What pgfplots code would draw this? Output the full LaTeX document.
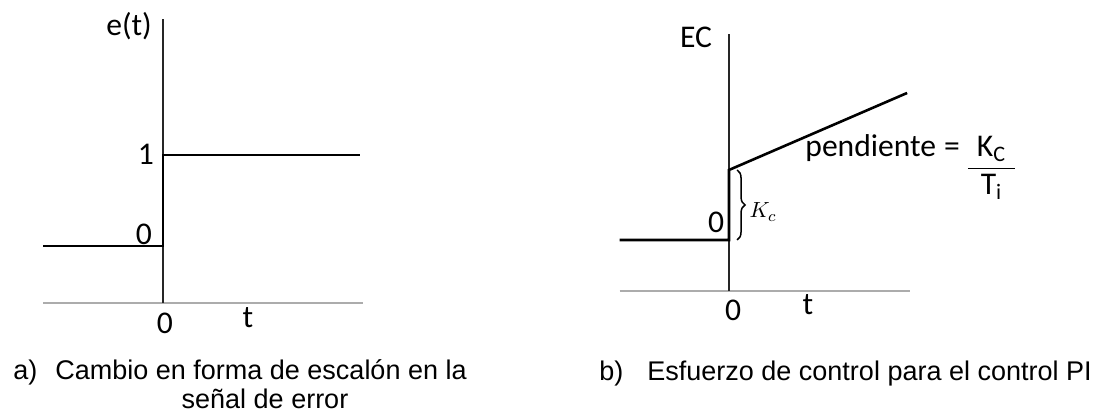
\documentclass[border=0pt]{standalone}
\usepackage{pgfplots}
\pgfplotsset{compat=1.18}
\usetikzlibrary{decorations.pathreplacing}
\usepackage{fontspec}
\setmainfont{Liberation Sans}
\newfontfamily\calfont{Carlito}
\setlength{\arrayrulewidth}{0.8pt}
\newcommand{\lab}{\calfont\fontsize{15.8}{18}\selectfont}
\newcommand{\capf}{\fontsize{13.5}{16}\selectfont}
\begin{document}
\begin{tikzpicture}
\useasboundingbox (0pt,-207.5pt) rectangle (547.5pt,0pt);
% ---------- panel a ----------
\begin{axis}[
  at={(21.5pt,-151.5pt)}, anchor=south west,
  x=40pt, y=45.5pt,
  xmin=-1.5, xmax=2.5, ymin=-0.626, ymax=2.495,
  axis x line=bottom, axis y line=middle,
  axis line style={-},
  every outer x axis line/.append style={-, draw=gray!65, line width=1pt},
  every inner x axis line/.append style={-, draw=gray!65, line width=1pt},
  every inner y axis line/.append style={-, draw=black!85, line width=1pt},
  every outer y axis line/.append style={-, draw=black!85, line width=1pt},
  ticks=none, clip=false,
]
\addplot[black, line width=1.3pt] coordinates {(-1.5,0) (0,0) (0,1) (2.46,1)};
\end{axis}
% ---------- panel b ----------
\begin{axis}[
  at={(309.75pt,-145.5pt)}, anchor=south west,
  x=36.5pt, y=35pt,
  xmin=-1.5, xmax=2.48, ymin=-0.729, ymax=2.943,
  axis x line=bottom, axis y line=middle,
  axis line style={-},
  every outer x axis line/.append style={-, draw=gray!65, line width=1pt},
  every inner x axis line/.append style={-, draw=gray!65, line width=1pt},
  every inner y axis line/.append style={-, draw=black!85, line width=1pt},
  every outer y axis line/.append style={-, draw=black!85, line width=1pt},
  ticks=none, clip=false,
]
\addplot[black, line width=1.3pt] coordinates {(-1.5,0) (0,0) (0,1) (2.44,2.1)};
\draw[black, line width=0.75pt, decorate, decoration={brace, amplitude=4pt}]
  (axis cs:0.11,1) -- (axis cs:0.11,0);
\end{axis}
% ---------- labels panel a ----------
\begin{scope}[every node/.style={inner sep=0pt}]
\node at (64.5pt,-13pt) {\lab e(t)};
\node at (73pt,-77pt) {\lab 1};
\node at (72pt,-117pt) {\lab 0};
\node at (82.5pt,-161.5pt) {\lab 0};
\node at (124pt,-159pt) {\lab t};
% ---------- labels panel b ----------
\node at (348pt,-18.5pt) {\lab EC};
\node at (358pt,-111pt) {\lab 0};
\node at (366.5pt,-155pt) {\lab 0};
\node at (404pt,-152.5pt) {\lab t};
\node at (381.5pt,-106pt) {\fontsize{11}{12}\selectfont$K_c$};
\node[anchor=base west] at (402.5pt,-78.5pt) {\lab pendiente\hspace{4pt}=\hspace{4pt}\begin{tabular}[t]{@{\hspace{4.5pt}}c@{\hspace{4.5pt}}}K\textsubscript{C}\\\hline T\textsubscript{i}\end{tabular}};
% ---------- captions ----------
\node[anchor=base west] at (6.5pt,-190pt) {\capf a)};
\node[anchor=base west] at (27.5pt,-190pt) {\capf Cambio en forma de escalón en la};
\node[anchor=base] at (132.5pt,-204.5pt) {\capf señal de error};
\node[anchor=base west] at (299.5pt,-190.5pt) {\capf b)};
\node[anchor=base west] at (323.5pt,-190.5pt) {\capf Esfuerzo de control para el control PI};
\end{scope}
\end{tikzpicture}
\end{document}
